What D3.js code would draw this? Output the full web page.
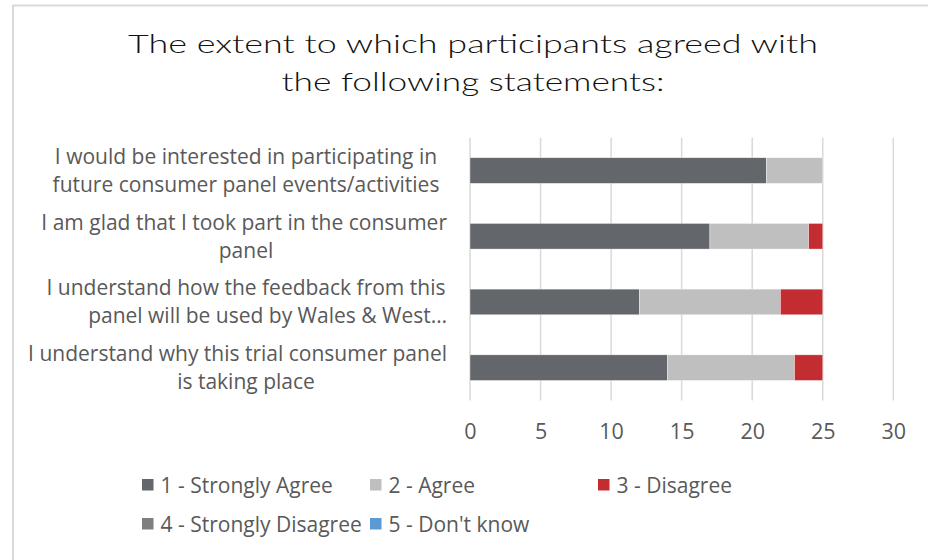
<!DOCTYPE html>
<html>
<head>
<meta charset="utf-8">
<script src="https://cdn.jsdelivr.net/npm/d3@7/dist/d3.min.js"></script>
<style>
  html, body { margin: 0; padding: 0; background: #fff; }
  svg { display: block; }
</style>
</head>
<body>
<svg id="chart" width="928" height="560"></svg>
<script>
// Survey statements (top to bottom), each split into its wrapped lines
const categories = [
  "I would be interested in participating in future consumer panel events/activities",
  "I am glad that I took part in the consumer panel",
  "I understand how the feedback from this panel will be used by Wales & West…",
  "I understand why this trial consumer panel is taking place"
];
const categoryLines = [
  ["I would be interested in participating in", "future consumer panel events/activities"],
  ["I am glad that I took part in the consumer", "panel"],
  ["I understand how the feedback from this", "panel will be used by Wales & West…"],
  ["I understand why this trial consumer panel", "is taking place"]
];

// Response options and number of participants per statement
const seriesNames = ["1 - Strongly Agree", "2 - Agree", "3 - Disagree", "4 - Strongly Disagree", "5 - Don't know"];
const stronglyAgree    = [21, 17, 12, 14];
const agree            = [4, 7, 10, 9];
const disagree         = [0, 1, 3, 2];
const stronglyDisagree = [0, 0, 0, 0];
const dontKnow         = [0, 0, 0, 0];
const seriesColors = ["#63666a", "#bfbfbf", "#c32d32", "#7f7f7f", "#5b9bd5"];

const xTicks = [0, 5, 10, 15, 20, 25, 30];
const titleLines = ["The extent to which participants agreed with", "the following statements:"];

const svg = d3.select("#chart");
const W = 928, H = 560;
const bodyFont = "'Open Sans', Lato, sans-serif";

// Chart area frame
svg.append("rect")
  .attr("x", 13).attr("y", 5.5)
  .attr("width", W).attr("height", H)
  .attr("fill", "#fff")
  .attr("stroke", "#d9d9d9").attr("stroke-width", 2);

// Title
const titleWidths = [690, 383];
svg.append("g").selectAll("text")
  .data(titleLines)
  .join("text")
  .attr("x", 473)
  .attr("y", (d, i) => 53 + i * 38)
  .attr("text-anchor", "middle")
  .attr("font-family", "Lato, sans-serif")
  .attr("font-weight", 300)
  .attr("font-size", 25.5)
  .attr("fill", "#111")
  .attr("textLength", (d, i) => titleWidths[i])
  .attr("lengthAdjust", "spacingAndGlyphs")
  .text(d => d);

// Scales
const x = d3.scaleLinear().domain([0, 30]).range([470, 893.3]);
const y = d3.scaleBand().domain(categories).range([137.7, 400.5])
  .paddingInner(0.61).paddingOuter(0.305);

// Vertical gridlines
svg.append("g").selectAll("line")
  .data(xTicks)
  .join("line")
  .attr("x1", d => x(d)).attr("x2", d => x(d))
  .attr("y1", 137.7).attr("y2", 400.5)
  .attr("stroke", "#d9d9d9").attr("stroke-width", 1.5);

// Axis tick labels
const xAxis = d3.axisBottom(x).tickValues(xTicks).tickSize(0).tickPadding(0);
const axisG = svg.append("g")
  .attr("transform", "translate(0,424)")
  .call(xAxis);
axisG.select(".domain").remove();
axisG.selectAll("text")
  .attr("font-family", bodyFont)
  .attr("font-size", 21.5)
  .attr("fill", "#595959");

// Stacked bars
const rows = categories.map((c, i) => ({
  category: c,
  s0: stronglyAgree[i], s1: agree[i], s2: disagree[i], s3: stronglyDisagree[i], s4: dontKnow[i]
}));
const stack = d3.stack().keys(["s0", "s1", "s2", "s3", "s4"]);
const stacked = stack(rows);

svg.append("g").selectAll("g")
  .data(stacked)
  .join("g")
  .attr("fill", (d, i) => seriesColors[i])
  .selectAll("rect")
  .data(d => d.filter(p => p[1] - p[0] > 0))
  .join("rect")
  .attr("x", p => x(p[0]))
  .attr("width", p => x(p[1]) - x(p[0]))
  .attr("y", p => y(p.data.category))
  .attr("height", y.bandwidth())
  .attr("stroke", "#fff").attr("stroke-width", 0.6).attr("stroke-opacity", 0.6);

// Category labels: lines centred in the label column, kept clear of the plot;
// truncated lines sit flush against the column's right edge
const labelCenter = 246, labelRight = 447;
const labelG = svg.append("g");
categories.forEach((c, i) => {
  const cy = y(c) + y.bandwidth() / 2;
  labelG.append("g").selectAll("text")
    .data(categoryLines[i])
    .join("text")
    .attr("y", (d, j) => cy - 6.5 + j * 28)
    .attr("text-anchor", "middle")
    .attr("font-family", bodyFont)
    .attr("font-size", 21)
    .attr("fill", "#595959")
    .text(d => d)
    .each(function(d) {
      const w = this.getComputedTextLength();
      let cx = labelCenter;
      if (d.endsWith("…") || cx + w / 2 > labelRight) cx = labelRight - w / 2;
      d3.select(this).attr("x", cx);
    });
});

// Legend: three columns, two rows
const legend = svg.append("g").selectAll("g")
  .data(seriesNames)
  .join("g")
  .attr("transform", (d, i) => `translate(${142 + (i % 3) * 228},${493 + Math.floor(i / 3) * 39})`);
legend.append("rect")
  .attr("x", 0).attr("y", -14)
  .attr("width", 11.5).attr("height", 11.5)
  .attr("fill", (d, i) => seriesColors[i]);
legend.append("text")
  .attr("x", 18.5).attr("y", 0)
  .attr("font-family", bodyFont)
  .attr("font-size", 21)
  .attr("fill", "#595959")
  .text(d => d);
</script>
</body>
</html>
